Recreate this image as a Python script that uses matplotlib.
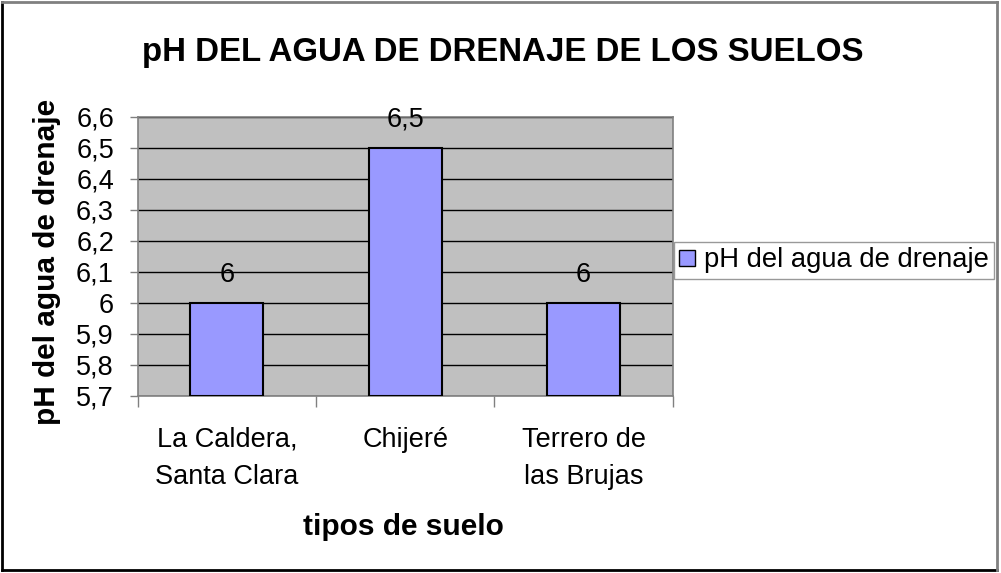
import matplotlib
matplotlib.use("Agg")
import matplotlib.pyplot as plt
from matplotlib.lines import Line2D
from matplotlib.ticker import FuncFormatter, FixedLocator

plt.rcParams['font.family'] = ['Liberation Sans', 'DejaVu Sans']

categories = ["La Caldera,\nSanta Clara", "Chijeré", "Terrero de\nlas Brujas"]
ph_values = [6.0, 6.5, 6.0]
series_name = "pH del agua de drenaje"
y_ticks = [5.7, 5.8, 5.9, 6.0, 6.1, 6.2, 6.3, 6.4, 6.5, 6.6]

W, H = 1001, 573
PT = 0.72  # points per pixel at 100 dpi
fig = plt.figure(figsize=(W / 100, H / 100), dpi=100)
fig.patch.set_facecolor("white")

ax = fig.add_axes([137.7 / W, 1 - 396 / H, 535 / W, 279 / H])
ax.set_facecolor("#C0C0C0")

x = range(len(categories))
bars = ax.bar(x, [v - y_ticks[0] for v in ph_values], bottom=y_ticks[0], width=0.41,
              color="#9999FF", edgecolor="black", linewidth=1.5, zorder=3,
              label=series_name)

ax.set_xlim(-0.5, len(categories) - 0.5)
ax.set_ylim(y_ticks[0], y_ticks[-1])

def comma(v, pos=None):
    return f"{v:g}".replace(".", ",")

ax.yaxis.set_major_locator(FixedLocator(y_ticks))
ax.yaxis.set_major_formatter(FuncFormatter(comma))
ax.grid(axis="y", color="black", linewidth=1.0, zorder=1)
ax.set_axisbelow(True)

# category labels centred under each bar, tick marks at category boundaries
ax.set_xticks([i - 0.5 for i in range(len(categories) + 1)])
ax.set_xticklabels([])
ax.tick_params(axis="x", length=8, width=1, color="#808080", direction="out")
ax.tick_params(axis="y", length=6, width=1, color="#808080", direction="out",
               labelsize=19.5, pad=11)
for i, c in enumerate(categories):
    for k, line in enumerate(c.split("\n")):
        ax.annotate(line, (i, 0), xycoords=("data", "axes fraction"),
                    xytext=(0, -(51 + 37 * k) * PT), textcoords="offset points",
                    ha="center", va="baseline", fontsize=19.5)

for s in ax.spines.values():
    s.set_color("#808080")
    s.set_linewidth(1.2)

for rect, v in zip(bars, ph_values):
    ax.annotate(comma(v), (rect.get_x() + rect.get_width() / 2, v),
                xytext=(0, 21 * PT), textcoords="offset points",
                ha="center", va="baseline", fontsize=19.5)

fig.text(503 / W, 1 - 52 / H, "pH DEL AGUA DE DRENAJE DE LOS SUELOS",
         ha="center", va="center", fontsize=23.8, fontweight="bold")
fig.text(47 / W, 1 - 262 / H, "pH del agua de drenaje", rotation=90,
         ha="center", va="center", fontsize=21.4, fontweight="bold")
fig.text(403 / W, 1 - 527 / H, "tipos de suelo",
         ha="center", va="center", fontsize=21.5, fontweight="bold")

leg = fig.legend(handles=[bars], labels=[series_name], loc="upper left",
                 bbox_to_anchor=(674 / W, 1 - 242 / H), fontsize=19.7,
                 frameon=True, fancybox=False, borderpad=0.2,
                 handlelength=0.55, handleheight=0.55, handletextpad=0.33,
                 borderaxespad=0)
leg.get_frame().set_edgecolor("#808080")
leg.get_frame().set_linewidth(1.0)
leg.legend_handles[0].set_linewidth(1.0)

# chart frame: dark left/bottom edges, grey top/right edges
x0, x1 = 1.5 / W, 997 / W
y0, y1 = 1 - 570 / H, 1 - 1.5 / H
for xs, ys, col in [([x0, x0], [y0, y1], "black"),
                    ([x0, x1], [y0, y0], "black"),
                    ([x0, x1], [y1, y1], "#808080"),
                    ([x1, x1], [y0, y1], "#808080")]:
    fig.add_artist(Line2D(xs, ys, transform=fig.transFigure, color=col,
                          linewidth=2))

fig.savefig("out.png", dpi=100)
